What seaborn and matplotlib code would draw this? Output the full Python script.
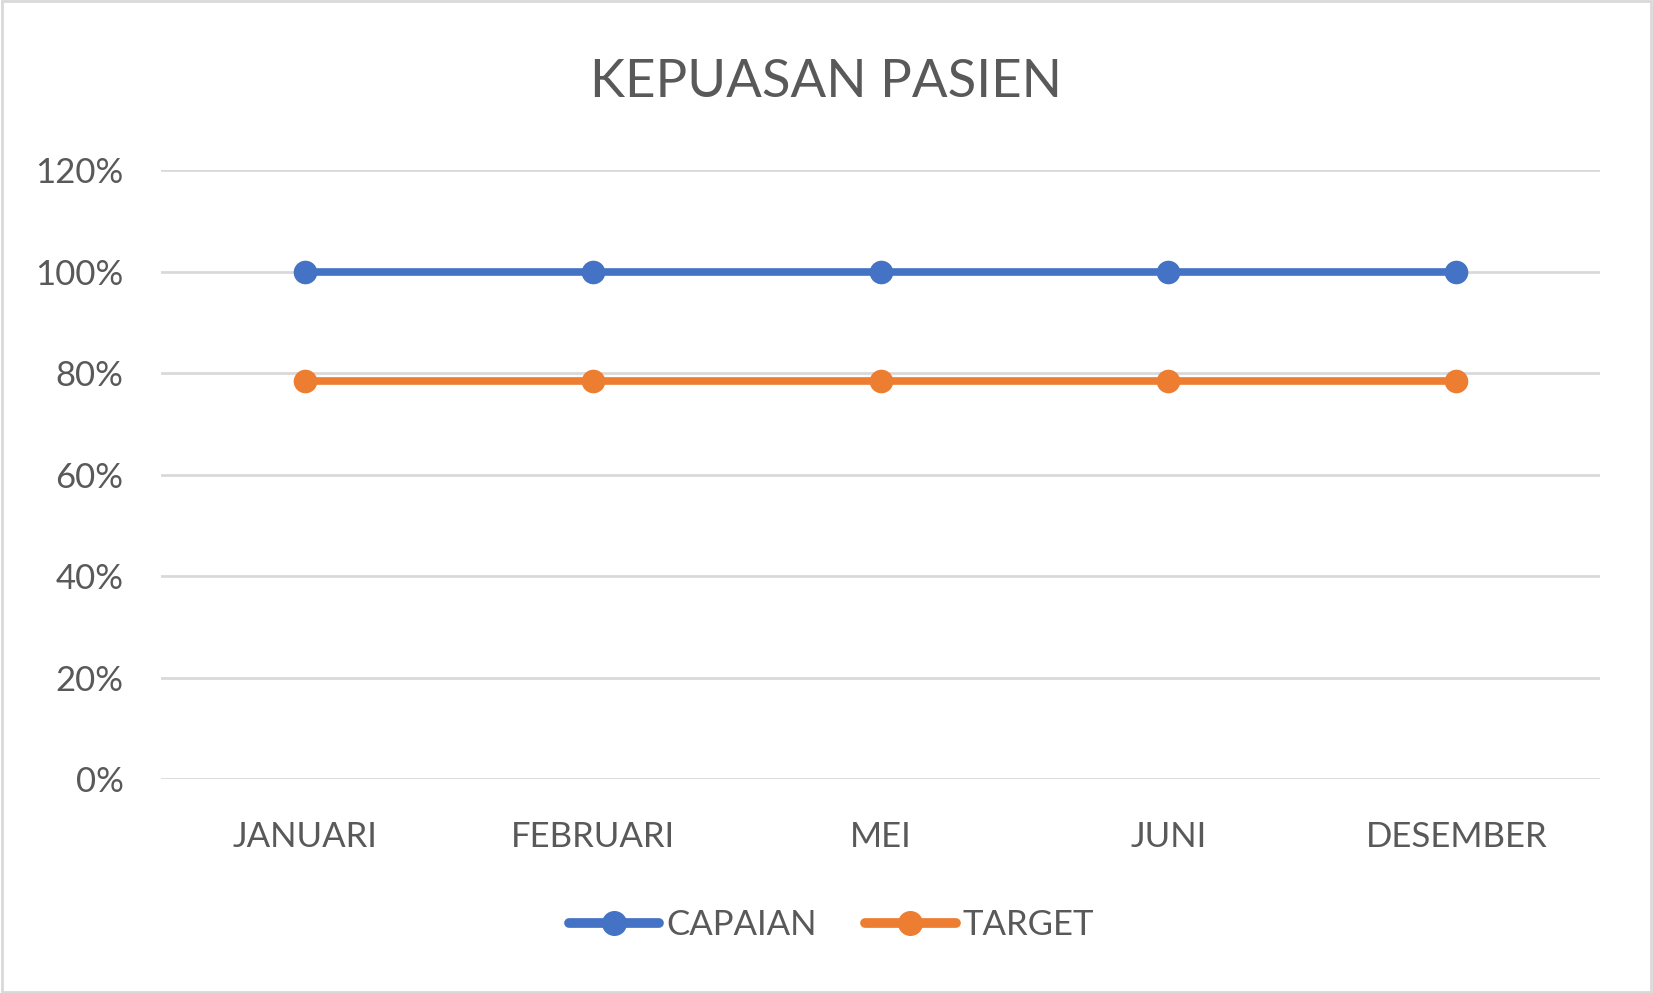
"""
Kepuasan pasien: capaian vs target per bulan
"""
import pandas as pd
import matplotlib.pyplot as plt
import seaborn as sns
from matplotlib.ticker import PercentFormatter

# data
months = ['JANUARI', 'FEBRUARI', 'MEI', 'JUNI', 'DESEMBER']
capaian = [1.00, 1.00, 1.00, 1.00, 1.00]
target = [0.785, 0.785, 0.785, 0.785, 0.785]
series_names = ['CAPAIAN', 'TARGET']
series_colors = ['#4472C4', '#ED7D31']
y_ticks = [0, 0.2, 0.4, 0.6, 0.8, 1.0, 1.2]

sns.set_style("white")
plt.rcParams['font.family'] = ['Lato', 'DejaVu Sans']
text_color = '#595959'

df = pd.DataFrame({
    'bulan': months * 2,
    'nilai': capaian + target,
    'seri': [series_names[0]] * len(months) + [series_names[1]] * len(months),
})

fig = plt.figure(figsize=(16.53, 9.93), dpi=100)
ax = fig.add_axes([0.0974, 0.2155, 0.8706, 0.6133])

sns.lineplot(data=df, x='bulan', y='nilai', hue='seri', hue_order=series_names,
             palette=series_colors, marker='o', markersize=17, markeredgewidth=0,
             linewidth=5.5, sort=False, ax=ax, legend=False)

ax.set_xlim(-0.5, len(months) - 0.5)
ax.set_ylim(0, 1.2)
ax.set_yticks(y_ticks)
ax.yaxis.set_major_formatter(PercentFormatter(1.0, decimals=0))
ax.grid(axis='y', color='#D9D9D9', linewidth=2)
ax.set_axisbelow(True)
for s in ax.spines.values():
    s.set_visible(False)
ax.tick_params(axis='both', length=0, labelsize=25, labelcolor=text_color)
ax.tick_params(axis='x', pad=30)
ax.tick_params(axis='y', pad=27)
ax.set_xlabel('')
ax.set_ylabel('')

fig.suptitle('KEPUASAN PASIEN', fontsize=38, color=text_color, y=0.917, va='center')

handles = [plt.Line2D([], [], color=c, linewidth=7, marker='o', markersize=17,
                      solid_capstyle='round')
           for c in series_colors]
fig.legend(handles, series_names, loc='center', bbox_to_anchor=(0.503, 0.068),
           ncol=2, frameon=False, fontsize=25, labelcolor=text_color,
           handlelength=2.6, handletextpad=0.2, columnspacing=1.4)

# light gray border around the chart
fig.patches.append(plt.Rectangle((0.001, 0.001), 0.998, 0.998, transform=fig.transFigure,
                                 fill=False, edgecolor='#D9D9D9', linewidth=2))

fig.savefig('out.png', dpi=100)
plt.close(fig)
